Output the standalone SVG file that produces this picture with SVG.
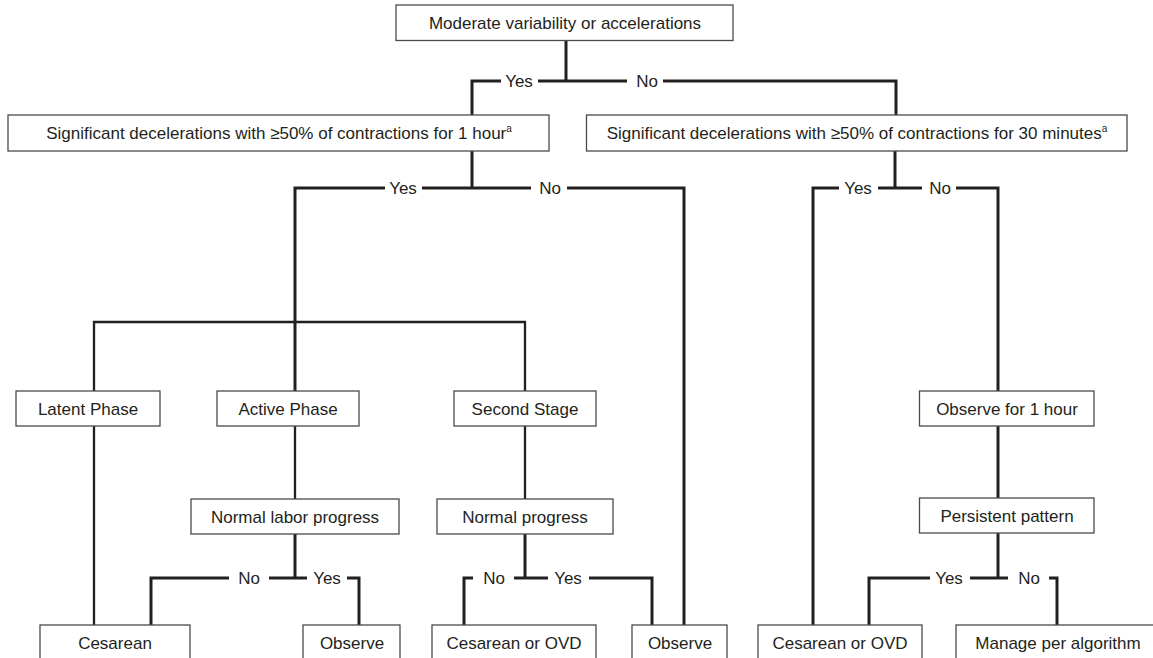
<svg xmlns="http://www.w3.org/2000/svg" width="1153" height="658" viewBox="0 0 1153 658">
<style>
.box{fill:#fff;stroke:#4a4a4a;stroke-width:1.3}
text{font-family:"Liberation Sans",Arial,sans-serif;font-size:17px;fill:#231f20;text-anchor:middle}
.sup{font-size:10px}
.c{fill:none;stroke:#231f20;stroke-width:3;stroke-linejoin:miter;stroke-linecap:butt}
.t{stroke-width:2.3}
</style>
<rect width="1153" height="658" fill="#fff"/>
<g id="connectors">
<path class="c" d="M566,41 V81 M472,116 V81 H501 M538,81 H627 M663,81 H896 V116"/>
<path class="c" d="M472,151 V188 M295,391 V188 H385 M422,188 H531 M567,188 H684 V625"/>
<path class="c" d="M895,151 V188 M813,625 V188 H839 M878,188 H922 M956,188 H998 V391"/>
<path class="c t" d="M94,391 V322 H525 V391"/>
<path class="c t" d="M94,426 V625 M295,426 V499 M525,426 V499"/>
<path class="c" d="M998,426 V498"/>
<path class="c" d="M295,534 V578 M151,625 V578 H229 M269,578 H307 M347,578 H359 V625"/>
<path class="c" d="M525,534 V578 M464,625 V578 H473 M514,578 H548 M589,578 H652 V625"/>
<path class="c" d="M998,533 V578 M869,625 V578 H930 M970,578 H1008 M1049,578 H1057 V625"/>
<g id="edge-labels">
<text x="519" y="87">Yes</text>
<text x="647" y="87">No</text>
<text x="403" y="194">Yes</text>
<text x="550" y="194">No</text>
<text x="858" y="194">Yes</text>
<text x="940" y="194">No</text>
<text x="249" y="584">No</text>
<text x="327" y="584">Yes</text>
<text x="494" y="584">No</text>
<text x="568" y="584">Yes</text>
<text x="949" y="584">Yes</text>
<text x="1029" y="584">No</text>
</g>
</g>
<g id="n-top"><rect class="box" x="396" y="5" width="337" height="35.5"/><text x="565" y="29">Moderate variability or accelerations</text></g>
<g id="n-sig1h"><rect class="box" x="8" y="115" width="541" height="36"/><text x="279" y="139">Significant decelerations with ≥50% of contractions for 1 hour<tspan class="sup" dy="-7">a</tspan></text></g>
<g id="n-sig30"><rect class="box" x="586.5" y="115" width="540.5" height="36"/><text x="857" y="139">Significant decelerations with ≥50% of contractions for 30 minutes<tspan class="sup" dy="-7">a</tspan></text></g>
<g id="n-latent"><rect class="box" x="16" y="391" width="144" height="35"/><text x="88" y="414.5">Latent Phase</text></g>
<g id="n-active"><rect class="box" x="217" y="391" width="142" height="35"/><text x="288" y="414.5">Active Phase</text></g>
<g id="n-second"><rect class="box" x="454" y="391" width="142" height="35"/><text x="525" y="414.5">Second Stage</text></g>
<g id="n-observe1h"><rect class="box" x="919.5" y="391" width="174.5" height="35"/><text x="1007" y="414.5">Observe for 1 hour</text></g>
<g id="n-normallabor"><rect class="box" x="191" y="499" width="208" height="35"/><text x="295" y="522.5">Normal labor progress</text></g>
<g id="n-normalprog"><rect class="box" x="437" y="499" width="176" height="35"/><text x="525" y="522.5">Normal progress</text></g>
<g id="n-persistent"><rect class="box" x="919.5" y="498" width="174.5" height="35"/><text x="1007" y="521.5">Persistent pattern</text></g>
<g id="n-cesarean"><rect class="box" x="40" y="625" width="150" height="36"/><text x="115" y="649">Cesarean</text></g>
<g id="n-observe-a"><rect class="box" x="303" y="625" width="97" height="36"/><text x="352" y="649">Observe</text></g>
<g id="n-covd-a"><rect class="box" x="432" y="625" width="164" height="36"/><text x="514" y="649">Cesarean or OVD</text></g>
<g id="n-observe-b"><rect class="box" x="632" y="625" width="95" height="36"/><text x="680" y="649">Observe</text></g>
<g id="n-covd-b"><rect class="box" x="758" y="625" width="164" height="36"/><text x="840" y="649">Cesarean or OVD</text></g>
<g id="n-manage"><rect class="box" x="956" y="625" width="210" height="36"/><text x="1058" y="649">Manage per algorithm</text></g>
</svg>
